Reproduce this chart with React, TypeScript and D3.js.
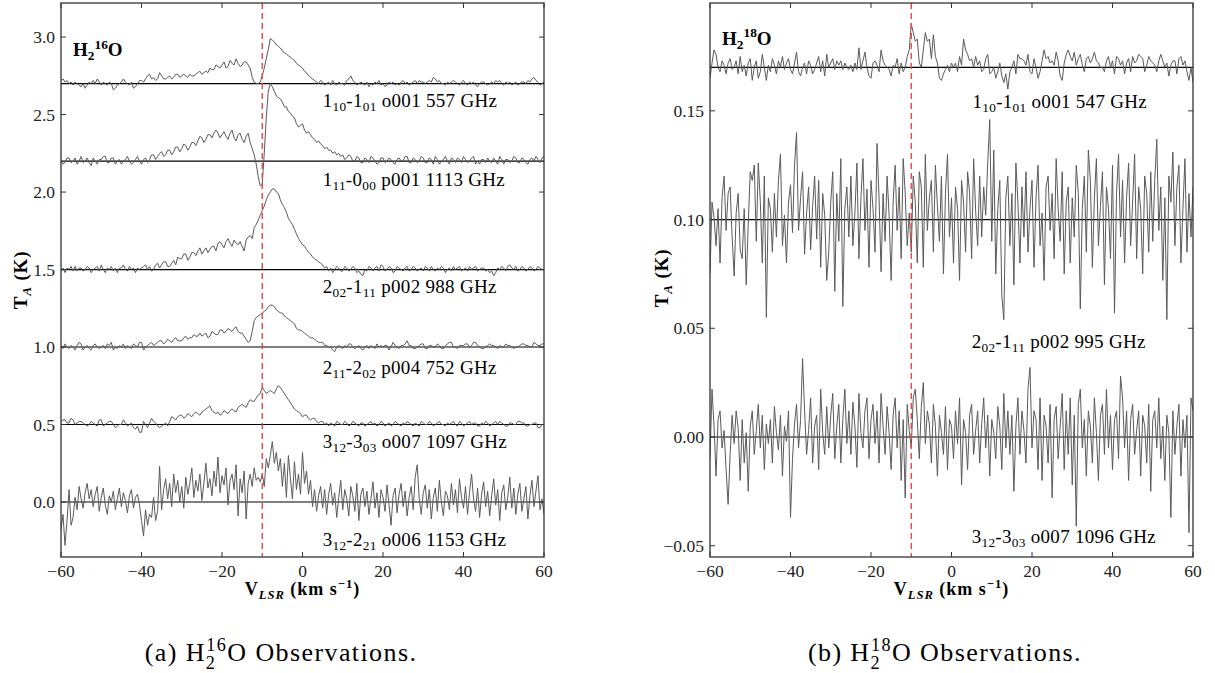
import React from "react";
import * as d3 from "d3";

// ---------- DATA ----------
const VEL_MIN = -60;
const VEL_MAX = 60;
const xTicks = [-60, -40, -20, 0, 20, 40, 60];
const leftYTicks = [0.0, 0.5, 1.0, 1.5, 2.0, 2.5, 3.0];
const rightYTicks = [-0.05, 0.0, 0.05, 0.1, 0.15];
const sourceVelocity = -10;

// H2-16O spectra (0.5 km/s channels): offsets from baseline in units of 0.01 K
const leftBaselines = [2.7, 2.2, 1.5, 1.0, 0.5, 0.0];
const h16o_557 = [
  2, 3, 1, 2, 0, 1, -1, 1, 0, -1, -2, 0, -3, -1, 1, 0, 2, 0, 3, 1,
  -1, 1, 0, -1, 1, 0, -4, -3, -1, 0, 1, 3, 1, 0, -1, 1, -3, -2, 0, 2,
  2, 1, 3, 5, 6, 3, 4, 2, 3, 7, 5, 3, 3, 4, 5, 3, 4, 6, 6, 4,
  5, 6, 5, 4, 6, 5, 5, 6, 7, 8, 6, 7, 8, 7, 10, 9, 9, 12, 11, 10,
  12, 14, 10, 11, 15, 13, 12, 16, 13, 11, 12, 14, 14, 12, 10, 4, 1, 0, 0, 1,
  5, 10, 16, 22, 29, 28, 27, 25, 24, 23, 21, 20, 19, 18, 17, 16, 15, 13, 12, 11,
  10, 8, 7, 5, 4, 3, 2, 1, 0, 2, 1, -1, 0, 1, -1, 2, 0, -1, 1, 0,
  0, -1, 2, 3, 5, 2, 1, -1, 0, 1, 0, -1, 1, -2, 0, -1, 1, 0, 2, -1,
  0, -2, -1, 1, 0, 1, -1, 0, -1, 1, 2, 0, 1, -1, 0, 1, 2, 0, 2, 1,
  1, 0, 1, 2, 1, 4, 3, 1, 2, 0, 0, -1, 1, 0, 1, 2, 1, 0, -1, 1,
  2, 0, -1, 1, 0, 1, -1, -2, 0, 1, 1, 0, -1, 0, 1, 0, 2, 1, 2, 0,
  -1, 1, 0, 1, -1, 0, 1, -1, 0, 1, 1, 0, 2, 1, 3, 4, 2, 1, -1, 0,
  1,
];
const h16o_1113 = [
  1, -2, -1, 2, 2, -1, 0, 2, -2, 0, 3, -1, 0, 2, -1, -3, 2, 0, -2, 1,
  1, 3, 3, -1, -1, 2, 2, -2, 0, 1, -2, 0, 1, 3, 0, -2, -1, 1, 3, 0,
  -2, 1, 2, -1, 1, 4, 4, 1, 3, 5, 6, 3, 4, 7, 7, 4, 6, 9, 9, 6,
  8, 11, 10, 7, 9, 12, 12, 10, 13, 16, 15, 12, 14, 17, 17, 15, 18, 20, 18, 15,
  17, 19, 16, 14, 18, 20, 15, 13, 17, 18, 14, 12, 16, 18, 12, 8, 4, -2, -10, -16,
  -15, 5, 28, 45, 50, 48, 45, 42, 41, 40, 38, 35, 35, 32, 31, 29, 28, 24, 22, 23,
  24, 20, 18, 19, 17, 15, 14, 12, 13, 11, 10, 8, 9, 7, 7, 5, 6, 4, 5, 3,
  4, 1, 2, 4, 3, 0, 0, 3, 2, -1, -1, 2, 1, -1, 3, 2, 0, -2, -1, 2,
  2, -1, 0, 2, 1, -1, -2, 1, 2, 0, 0, 3, 3, -1, -1, 2, 1, -1, 0, 3,
  2, -1, -1, 2, 1, -2, 3, 1, -2, 0, 1, 3, 0, -2, 2, 1, -1, 2, 1, -1,
  3, 1, -1, 0, 2, 3, -2, 0, -2, 1, 1, -1, 2, 0, -1, 2, 0, -2, 3, 1,
  -2, 1, 1, -1, 0, 3, 2, -1, -1, 2, 1, -1, -2, 1, 2, 0, 3, 1, -1, 2,
  3,
];
const h16o_988 = [
  -1, 1, -2, 1, 0, 2, -1, 2, -1, 1, 1, -1, 0, 2, 1, -2, 0, 1, 2, -1,
  3, 0, -2, 1, 0, 2, -1, 1, -2, 1, 1, 3, 0, -1, 2, 0, 1, -2, 1, 0,
  1, 2, 3, 0, 2, -1, 0, 3, 4, 1, 3, 5, 5, 2, 2, 4, 6, 3, 8, 7,
  7, 10, 10, 6, 8, 11, 11, 9, 12, 14, 10, 12, 14, 11, 13, 15, 15, 12, 17, 18,
  16, 14, 18, 20, 17, 15, 19, 17, 16, 18, 15, 12, 19, 21, 22, 20, 27, 29, 32, 35,
  38, 41, 45, 48, 50, 52, 52, 50, 49, 45, 42, 40, 37, 33, 31, 29, 26, 23, 20, 18,
  16, 15, 13, 11, 10, 8, 7, 6, 5, 4, 3, 1, 2, -1, 1, -2, 0, 2, 1, -1,
  -1, 2, 1, -1, 0, 2, 1, -2, -1, -3, -4, 0, -1, 2, 1, -1, 1, 2, -1, 3,
  2, -1, 0, 2, 1, -2, -1, 2, 1, 0, -1, 1, 2, -1, 0, 2, 1, -1, 0, 1,
  -1, 2, 1, -1, 2, 0, -1, 1, 0, 2, 1, -2, 0, 1, -1, 2, 0, 1, 2, -1,
  0, 1, -1, 2, 0, 1, 2, -1, 0, 1, 1, -1, 0, -2, -1, -4, -2, 1, 0, 2,
  1, -1, 2, 3, 1, 0, 2, -1, 0, 2, 1, -1, 0, 2, 1, -1, 0, 2, 1, 0,
  0,
];
const h16o_752 = [
  1, -1, 2, 0, -1, 1, 0, -2, 1, 3, 2, -2, 0, 1, -1, -2, 1, 2, 0, -1,
  0, 1, -1, 2, 1, 3, -2, 0, -1, 1, 0, 2, -1, 1, 0, -1, 2, 1, 0, 3,
  3, -2, 0, 1, 2, 3, 1, 2, 3, 4, 4, 2, 3, 5, 4, 3, 5, 6, 4, 4,
  4, 6, 7, 5, 6, 6, 8, 7, 7, 9, 7, 8, 9, 6, 7, 10, 9, 8, 8, 11,
  11, 9, 10, 12, 11, 10, 12, 13, 10, 9, 9, 7, 5, 3, 4, 10, 17, 19, 20, 21,
  22, 23, 24, 26, 27, 27, 26, 24, 23, 22, 22, 20, 19, 18, 17, 16, 15, 12, 11, 11,
  10, 9, 8, 7, 6, 6, 5, 4, 3, 3, 3, 1, 1, 0, 0, -2, -3, 0, 1, 0,
  -1, 1, 0, 2, 2, 0, -1, 0, 1, -1, -2, 0, 1, -1, 1, 0, -1, 2, 0, 1,
  0, 1, 1, -2, 0, 3, 1, 0, -1, 1, 1, 2, 4, 1, 1, -1, -1, 0, 1, 2,
  2, -1, -1, 1, 1, 0, 0, 2, 1, -1, -1, 1, 2, 3, 3, 0, 0, -1, 1, 1,
  1, 2, 2, 0, 1, 3, 3, 1, 0, -1, -1, 0, 1, 2, 1, 1, 0, -1, 1, 0,
  0, 2, 1, 1, 0, -1, 0, 0, 1, 2, 2, 1, 1, 0, 0, 3, 2, 1, 1, 2,
  2,
];
const h16o_1097 = [
  2, 3, 3, 1, 1, 4, 3, 0, 1, 2, 2, 1, 0, -1, 0, 2, 1, 0, -1, 3,
  3, -1, 0, 1, 2, 2, 0, -2, -1, 0, 0, 3, 1, -1, 0, 1, -2, -3, -1, -5,
  -5, 2, 0, -2, 1, 4, 2, 1, -1, -2, -1, 0, 1, -1, 2, 5, 4, 3, 5, 6,
  6, 4, 5, 7, 6, 5, 7, 8, 7, 6, 8, 9, 10, 11, 12, 9, 8, 7, 8, 6,
  7, 9, 8, 7, 9, 10, 9, 8, 11, 12, 13, 12, 11, 14, 16, 15, 15, 17, 19, 20,
  24, 22, 20, 21, 22, 21, 20, 23, 25, 24, 22, 20, 18, 16, 14, 12, 10, 9, 8, 7,
  5, 6, 6, 4, 3, 4, 4, 2, 1, 2, 2, 0, 1, -1, 1, 0, -1, 2, 1, 0,
  0, 2, 1, -1, 0, 2, 1, 0, -1, 1, 1, -1, 0, 1, 2, 0, 1, -1, 0, 2,
  1, -1, 0, 1, -1, 0, 2, 1, 0, -1, 1, 0, 2, 1, 0, -1, 1, 0, -1, 2,
  1, 0, 0, 2, 1, -1, 0, 1, 2, 0, 0, -1, 1, 0, 1, 2, 0, -1, 2, 1,
  -1, 0, 1, 2, 0, 1, 1, -1, -1, 1, 0, 2, 1, -1, 0, 1, 2, 0, 2, 1,
  0, -1, -1, 1, 1, 0, 0, 2, 2, 1, 1, -1, -1, 0, 0, 1, 1, -2, -2, 0,
  0,
];
const h16o_1153 = [
  -18, -8, -28, -12, 8, -15, -10, 3, -5, 10, 2,
  -4, 6, 12, 2, 8, -3, 5, 10, -6, 3, 9, -2, -8, 4, 0, 7, -5, 2, 9, -3, 6, 1, -7, 4, 8, -4, 3, 5, -2,
  -12, -22, -5, -15, -8, -10, 3, -12, -6, 23,
  -5, 8, 15, 2, 12, -3, 18, 6, 14, 0, 10, -4, 16, 5, 12, 22, 3, 14, 7, 18,
  1, 12, 25, 9, 15, 4, 20, 10, 29, 6, 17, 11, 22, -2, 14, 18, 8, 24, -9, 15,
  6, 20, -11, 12, 18, 10, 22, 14, 16, 13,
  18, 10, 28, 22, 30, 39, 25, 32, 20, 28,
  10, 25, 3, 30, 15, 2, 26, 8, 18, 5,
  32, 12, 20, 5, 14, -3, 8, -6, 4, 10,
  -4, 8, -8, 5, 12, -2, 6, -10, 3, 14, -5, 8, 2, -9, 10, 4, -6, 12, -12, 5,
  9, -3, 7, -8, 2, 13, -4, 6, -10, 8, 3, -6, 11, -2, -15, 4, 9, -7, 5, 12,
  -3, 7, -9, 3, 10, -5, 16, 24, 2, -8, 6, 11, -4, 8, -11, 3, 9, -6, 14, 0,
  -9, 7, 4, -5, 12, -2, 8, -7, 15, 3, -4, 10, -8, 6, 18, 2, -6, 9, -10, 5,
  13, -3, 7, -9, 4, 15, -2, 8, -12, 6, 11, -5, 3, 16, -4, 9, -8, 5, 12, -6,
  2, 10, -11, 4, 14, -3, 7, 17, -5, 2, -8,
];

// H2-18O spectra (0.5 km/s channels): offsets from baseline in mK
const rightBaselines = [0.17, 0.1, 0.0];
const h18o_547 = [
  -5, 2, 8, 6, 0, -2, 3, 1, -3, 2, 4, -1, 0, 3, -3, 5, -2, 1, -4, 2,
  4, -6, 0, 3, -5, -2, 6, 0, -6, 1, -2, 4, 1, -3, 3, 0, 5, -1, 2, 4,
  -1, -3, 2, 7, -2, -4, 0, 2, -3, 3, 1, -3, -1, 2, 5, -2, 3, -4, 6, 0,
  2, 4, -1, 3, 1, 3, -1, 2, 0, -1, 1, -2, 2, -1, 9, -1, 3, 7, 0, -4,
  -5, 2, 3, 1, -2, 8, 3, 1, 0, -1, -4, 1, 0, 4, -3, 2, -2, 0, 5, 8,
  20, 16, 12, 13, 2, 0, 8, 16, 12, 13, 4, 15, 5, 2, -5, -6, -3, -1, 1, -2,
  2, 0, 2, -2, 5, 1, 13, 8, 6, 3, 4, 0, 5, 1, 3, -2, -1, 4, 6, -3,
  -2, 0, -5, -2, 2, -4, -7, -3, -10, -2, 0, 3, -3, 6, 4, 4, 3, 1, 6, -2,
  -3, 4, 0, -5, -2, 3, 8, 4, 5, 2, 3, 1, 7, 3, -4, -6, 2, 6, 8, 5,
  3, 7, 1, 4, 6, 1, -2, 4, 5, 2, 4, 7, 3, 2, 0, 0, -2, 3, 5, 0,
  3, -3, 5, 4, 1, 3, -3, 2, 4, -2, 5, 2, 3, 6, 5, 4, -2, 1, 5, 3,
  2, 1, -2, 3, 6, 3, 0, 2, -4, 1, 3, 3, -3, 4, 5, 1, 3, -2, -6, 0,
  -7,
];
const h18o_995 = [
  -25, 8, 1, -12, 5, -20, 10, 20, -5, 12, 15, -8, -26, 3, 12, -14, -18, 5, -30, -2,
  22, 18, 25, -10, 26, 8, -20, 20, -45, 10, 5, -15, 12, -8, 18, 30, -12, 2, -20, 8,
  16, -6, 25, 40, -5, 10, 22, -16, 3, 15, -14, 6, 20, -9, 18, -22, 12, 2, -28, -15,
  8, 22, -33, 12, -10, 28, -40, 5, 15, -8, 20, -12, 3, 26, -18, 10, 28, -5, 14, -22,
  18, 5, -15, 35, 10, -24, 12, -10, 20, 2, -28, 8, 25, -5, 15, -18, 28, 12, -12, 3,
  -15, 20, 8, -20, 22, 15, -22, 30, -5, 10, 18, -15, 25, 6, -10, 20, -25, 12, 30, -8,
  10, -20, 15, 5, -28, 18, 8, -15, 22, 12, -18, 28, 4, -12, 20, -8, 15, 2, 26, 46,
  -10, 32, -25, 5, 18, -35, -46, 10, 20, -12, 12, -30, 26, 8, -20, 15, -8, 22, -15, 5,
  18, -22, 10, 25, -12, 3, -28, 15, 20, -5, 12, -18, 28, 5, -10, 22, -25, 8, 15, -20,
  10, -8, 25, 12, -41, 5, 20, -15, 32, 18, -22, 10, 28, -12, 6, 22, -30, 15, 5, -18,
  25, -43, 12, 30, -8, 18, -20, 10, 26, -12, 8, 30, -18, 15, 5, -25, 20, 12, -15, 22,
  -10, 18, 37, -5, 15, -28, 10, -46, 20, 8, 31, -12, 15, 25, -20, 5, 28, -15, 12, -8,
  15,
];
const h18o_1096 = [
  -10, 22, 5, -18, 8, 12, -5, 3, -15, -31, -8, 10, -3, 12, 4, -20, 8, -12, 2, -25,
  5, 12, -8, 3, 15, -5, 10, -15, 6, -3, 8, -12, 14, 2, -6, 10, -18, 5, -2, 12,
  -37, -10, 6, 15, -5, 8, 36, 12, -8, 3, 18, -12, 5, 10, -15, 22, 2, -8, 14, -5,
  10, 20, -10, 5, 15, -12, 8, 22, -3, 12, -8, 16, 5, -14, 20, 2, -5, 12, 18, -10,
  8, 15, -3, 12, -12, 20, 5, -8, 14, 2, -15, 10, 18, -5, 12, -20, 8, -28, 15, 3,
  -5, 18, 22, 8, -10, 14, 25, -3, 12, 6, -12, 15, 5, -18, 10, 2, -8, 14, -15, 8,
  5, -10, 12, -3, 18, -22, 8, 2, -15, 10, 15, -8, 3, 12, -12, 6, 18, -5, 10, -18,
  8, 2, -10, 14, 5, -15, 20, -5, 12, -8, 10, -25, 5, 18, -8, 12, 3, -12, 22, 32,
  -5, 12, 8, -15, 18, -20, 10, 5, -12, 15, -28, 8, 14, -10, 5, 20, -15, 12, -8, 18,
  -22, 10, -41, 15, 22, -5, 8, -18, 12, 5, -12, 18, 2, -20, 10, 15, -8, 22, -5, 10,
  -15, 8, 12, -10, 28, 18, -5, 12, -20, 8, 15, -8, 3, 12, -18, 10, 5, -12, 15, -25,
  8, 12, -5, 18, -10, 5, -20, 10, 2, -37, 12, -8, 5, 15, -18, 8, -5, 10, -44, 18,
  12,
];

// ---------- LABELS ----------
type Seg = { t: string; sub?: boolean; sup?: boolean; it?: boolean; back?: number };
const leftLabels: { segs: Seg[]; v: number; T: number }[] = [
  { segs: [{ t: "1" }, { t: "10", sub: true }, { t: "-1" }, { t: "01", sub: true }, { t: " o001 557 GHz" }], v: 5, T: 2.548 },
  { segs: [{ t: "1" }, { t: "11", sub: true }, { t: "-0" }, { t: "00", sub: true }, { t: " p001 1113 GHz" }], v: 5, T: 2.039 },
  { segs: [{ t: "2" }, { t: "02", sub: true }, { t: "-1" }, { t: "11", sub: true }, { t: " p002 988 GHz" }], v: 5, T: 1.348 },
  { segs: [{ t: "2" }, { t: "11", sub: true }, { t: "-2" }, { t: "02", sub: true }, { t: " p004 752 GHz" }], v: 5, T: 0.826 },
  { segs: [{ t: "3" }, { t: "12", sub: true }, { t: "-3" }, { t: "03", sub: true }, { t: " o007 1097 GHz" }], v: 5, T: 0.348 },
  { segs: [{ t: "3" }, { t: "12", sub: true }, { t: "-2" }, { t: "21", sub: true }, { t: " o006 1153 GHz" }], v: 5, T: -0.284 },
];
const rightLabels: { segs: Seg[]; v: number; T: number }[] = [
  { segs: [{ t: "1" }, { t: "10", sub: true }, { t: "-1" }, { t: "01", sub: true }, { t: " o001 547 GHz" }], v: 5.2, T: 0.1513 },
  { segs: [{ t: "2" }, { t: "02", sub: true }, { t: "-1" }, { t: "11", sub: true }, { t: " p002 995 GHz" }], v: 5, T: 0.041 },
  { segs: [{ t: "3" }, { t: "12", sub: true }, { t: "-3" }, { t: "03", sub: true }, { t: " o007 1096 GHz" }], v: 5, T: -0.0488 },
];

const FONT = "'Liberation Serif', 'Times New Roman', serif";

function Rich({ segs, x, y, size, weight = "normal", anchor = "start", ls = 0, transform, fill = "#000", subShift = 0.22 }: any) {
  let cur = 0;
  const spans = segs.map((s: Seg, i: number) => {
    const target = s.sub ? size * subShift : s.sup ? -size * 0.4 : 0;
    const dy = target - cur;
    cur = target;
    return (
      <tspan
        key={i}
        dy={dy || undefined}
        dx={s.back ? -s.back : undefined}
        fontSize={s.sub || s.sup ? size * 0.7 : size}
        fontStyle={s.it ? "italic" : undefined}
      >
        {s.t}
      </tspan>
    );
  });
  return (
    <text
      x={x}
      y={y}
      fontFamily={FONT}
      fontSize={size}
      fontWeight={weight}
      textAnchor={anchor}
      letterSpacing={ls}
      transform={transform}
      fill={fill}
      style={{ whiteSpace: "pre" }}
    >
      {spans}
    </text>
  );
}

const fmt = (v: number, d: number) => (v < 0 ? "\u2212" : "") + Math.abs(v).toFixed(d);

function Panel({ id, x0, x1, yDomain, yTicks, yDec, baselines, spectra, unit, labels, molLabel, molPos }: any) {
  const top = 3;
  const bottom = 557;
  const xs = d3.scaleLinear().domain([VEL_MIN, VEL_MAX]).range([x0, x1]);
  const ys = d3.scaleLinear().domain(yDomain).range([bottom, top]);
  const tk = 5;
  const lines = spectra.map((arr: number[], k: number) => {
    const n = arr.length;
    const pts: [number, number][] = arr.map((o, i) => [
      VEL_MIN + (i * (VEL_MAX - VEL_MIN)) / (n - 1),
      baselines[k] + o * unit,
    ]);
    const gen = d3
      .line<[number, number]>()
      .x((d) => xs(d[0]))
      .y((d) => ys(d[1]));
    return gen(pts) as string;
  });
  return (
    <g>
      <defs>
        <clipPath id={id}>
          <rect x={x0} y={top} width={x1 - x0} height={bottom - top} />
        </clipPath>
      </defs>
      <g clipPath={`url(#${id})`}>
        {baselines.map((b: number, i: number) => (
          <line key={"b" + i} x1={x0} x2={x1} y1={ys(b)} y2={ys(b)} stroke="#000" strokeWidth={1.2} />
        ))}
        {lines.map((d: string, i: number) => (
          <path key={"s" + i} d={d} fill="none" stroke="#5a5a5a" strokeWidth={1} strokeLinejoin="round" />
        ))}
        <line
          x1={xs(sourceVelocity)}
          x2={xs(sourceVelocity)}
          y1={top}
          y2={bottom}
          stroke="#ee4444"
          strokeWidth={1.4}
          strokeDasharray="6,4"
        />
      </g>
      {xTicks.map((t) => (
        <g key={"xt" + t}>
          <line x1={xs(t)} x2={xs(t)} y1={bottom} y2={bottom - tk} stroke="#333" strokeWidth={1} />
          <line x1={xs(t)} x2={xs(t)} y1={top} y2={top + tk} stroke="#333" strokeWidth={1} />
          <text x={xs(t)} y={577} textAnchor="middle" fontFamily={FONT} fontSize={17.5} fill="#222">
            {fmt(t, 0)}
          </text>
        </g>
      ))}
      {yTicks.map((t: number) => (
        <g key={"yt" + t}>
          <line x1={x0} x2={x0 + tk} y1={ys(t)} y2={ys(t)} stroke="#333" strokeWidth={1} />
          <line x1={x1} x2={x1 - tk} y1={ys(t)} y2={ys(t)} stroke="#333" strokeWidth={1} />
          <text x={x0 - 6} y={ys(t) + 6} textAnchor="end" fontFamily={FONT} fontSize={17.5} fill="#222">
            {fmt(t, yDec)}
          </text>
        </g>
      ))}
      <rect x={x0} y={top} width={x1 - x0} height={bottom - top} fill="none" stroke="#333" strokeWidth={1.3} />
      {labels.map((l: any, i: number) => (
        <Rich key={"l" + i} segs={l.segs} x={xs(l.v)} y={ys(l.T)} size={19} ls={0.3} />
      ))}
      <Rich segs={molLabel} x={xs(molPos[0])} y={ys(molPos[1])} size={19} weight="bold" />
      <Rich
        segs={[{ t: "V" }, { t: "LSR", sub: true, it: true }, { t: " (km s" }, { t: "\u22121", sup: true }, { t: ")" }]}
        x={(x0 + x1) / 2}
        y={595}
        size={18}
        weight="bold"
        anchor="middle"
        ls={1.0}
      />
    </g>
  );
}

export default function App() {
  const leftSpectra = [h16o_557, h16o_1113, h16o_988, h16o_752, h16o_1097, h16o_1153];
  const rightSpectra = [h18o_547, h18o_995, h18o_1096];
  return (
    <svg
      width={1215}
      height={673}
      viewBox="0 0 1215 673"
      style={{ position: "absolute", left: 0, top: 0, background: "#fff" }}
    >
      <rect width={1215} height={673} fill="#fff" />
      <Panel
        id="clipL"
        x0={61}
        x1={544}
        yDomain={[-0.355, 3.22]}
        yTicks={leftYTicks}
        yDec={1}
        baselines={leftBaselines}
        spectra={leftSpectra}
        unit={0.01}
        labels={leftLabels}
        molLabel={[{ t: "H" }, { t: "2", sub: true }, { t: "16", sup: true }, { t: "O" }]}
        molPos={[-57, 2.877]}
      />
      <Panel
        id="clipR"
        x0={710}
        x1={1193}
        yDomain={[-0.0552, 0.1996]}
        yTicks={rightYTicks}
        yDec={2}
        baselines={rightBaselines}
        spectra={rightSpectra}
        unit={0.001}
        labels={rightLabels}
        molLabel={[{ t: "H" }, { t: "2", sub: true }, { t: "18", sup: true }, { t: "O" }]}
        molPos={[-57, 0.1803]}
      />
      <Rich
        segs={[{ t: "T" }, { t: "A", sub: true, it: true }, { t: " (K)" }]}
        x={0}
        y={0}
        size={19}
        weight="bold"
        anchor="middle"
        ls={0.8}
        transform="translate(27,280) rotate(-90)"
      />
      <Rich
        segs={[{ t: "T" }, { t: "A", sub: true, it: true }, { t: " (K)" }]}
        x={0}
        y={0}
        size={19}
        weight="bold"
        anchor="middle"
        ls={0.8}
        transform="translate(668,278) rotate(-90)"
      />
      <Rich
        segs={[{ t: "(a) H" }, { t: "2", sub: true }, { t: "16", sup: true, back: 10 }, { t: "O Observations." }]}
        x={281}
        y={661}
        size={26}
        anchor="middle"
        ls={1.4}
        subShift={0.3}
      />
      <Rich
        segs={[{ t: "(b) H" }, { t: "2", sub: true }, { t: "18", sup: true, back: 10 }, { t: "O Observations." }]}
        x={945}
        y={661}
        size={26}
        anchor="middle"
        ls={1.4}
        subShift={0.3}
      />
    </svg>
  );
}
